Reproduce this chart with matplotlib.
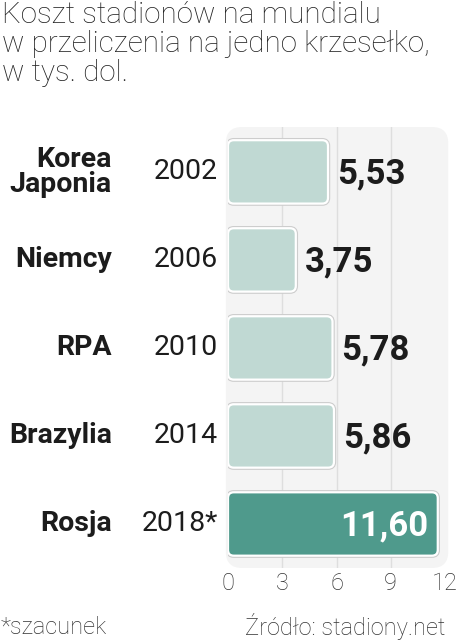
import matplotlib
matplotlib.use("Agg")
import matplotlib.pyplot as plt
from matplotlib.patches import FancyBboxPatch
from matplotlib.transforms import blended_transform_factory

countries = ["Korea\nJaponia", "Niemcy", "RPA", "Brazylia", "Rosja"]
years = ["2002", "2006", "2010", "2014", "2018*"]
values = [5.53, 3.75, 5.78, 5.86, 11.60]
value_labels = ["5,53", "3,75", "5,78", "5,86", "11,60"]
ticks = [0, 3, 6, 9, 12]

W, H = 459, 640
fig = plt.figure(figsize=(W / 100, H / 100), dpi=100)
fig.patch.set_facecolor("white")

# axes: x 0..12 -> px 228..445, y rows between px 127..568
ax = fig.add_axes([228 / W, 1 - 568 / H, 217 / W, 441 / H])
ax.set_xlim(0, 12)
ax.set_ylim(4.5, -0.51)
ax.axis("off")

xs = 217 / 12   # px per unit x
ys = 441 / 5.01  # px per unit y
asp = xs / ys

# panel background
ax.add_patch(FancyBboxPatch((-0.12, -0.51), 12.3, 5.01,
                            boxstyle="round,pad=0,rounding_size=0.9",
                            mutation_aspect=asp, facecolor="#f4f4f4",
                            edgecolor="none", clip_on=False, zorder=0))
for t in ticks[1:-1]:
    ax.plot([t, t], [-0.51, 4.5], color="#dedede", lw=1, zorder=1)

bars = ax.barh(range(len(values)), values, height=0.72, alpha=0)
for i, b in enumerate(bars):
    x0, y0, w, h = b.get_x(), b.get_y(), b.get_width(), b.get_height()
    fc = "#4f9a8c" if i == len(values) - 1 else "#c0d9d3"
    ax.add_patch(FancyBboxPatch((x0, y0), w, h,
                                boxstyle="round,pad=0,rounding_size=0.32",
                                mutation_aspect=asp, facecolor="none",
                                edgecolor="#cdcdcd", lw=3.2, zorder=2))
    ax.add_patch(FancyBboxPatch((x0, y0), w, h,
                                boxstyle="round,pad=0,rounding_size=0.32",
                                mutation_aspect=asp, facecolor=fc,
                                edgecolor="white", lw=1.6, zorder=3))

val_font = dict(family="Roboto", weight="bold", size=25)
for i, (v, lab) in enumerate(zip(values, value_labels)):
    if i == len(values) - 1:
        ax.text(v - 0.5, i + 0.02, lab, ha="right", va="center", color="white",
                zorder=4, **val_font)
    else:
        ax.text(v + 0.5, i + 0.02, lab, ha="left", va="center", color="#1c1c1c",
                zorder=4, **val_font)

tr = blended_transform_factory(fig.transFigure, ax.transData)
for i, (c, y) in enumerate(zip(countries, years)):
    ax.text(112 / W, i, c, transform=tr, ha="right", va="center", fontsize=20.5,
            family="Roboto", weight="bold", color="#1c1c1c", linespacing=0.9)
    ax.text(218 / W, i, y, transform=tr, ha="right", va="center", fontsize=20.5,
            family="Roboto", color="#1c1c1c")

for t in ticks:
    ax.text(t, 1 - 584 / H, str(t), transform=blended_transform_factory(ax.transData, fig.transFigure),
            ha="center", va="center", fontsize=17, family="Roboto", weight="light",
            color="#333333")

fig.text(2 / W, 1 - 1 / H, "Koszt stadionów na mundialu\nw przeliczenia na jedno krzesełko,\nw tys. dol.",
         ha="left", va="top", fontsize=21.3, family="Roboto", weight="light",
         color="#222222", linespacing=1.05)
fig.text(1 / W, 1 - 627 / H, "*szacunek", ha="left", va="center", fontsize=17,
         family="Roboto", weight="light", color="#333333")
fig.text(445 / W, 1 - 627 / H, "Źródło: stadiony.net", ha="right", va="center",
         fontsize=17, family="Roboto", weight="light", color="#333333")

fig.savefig("out.png", dpi=100)
